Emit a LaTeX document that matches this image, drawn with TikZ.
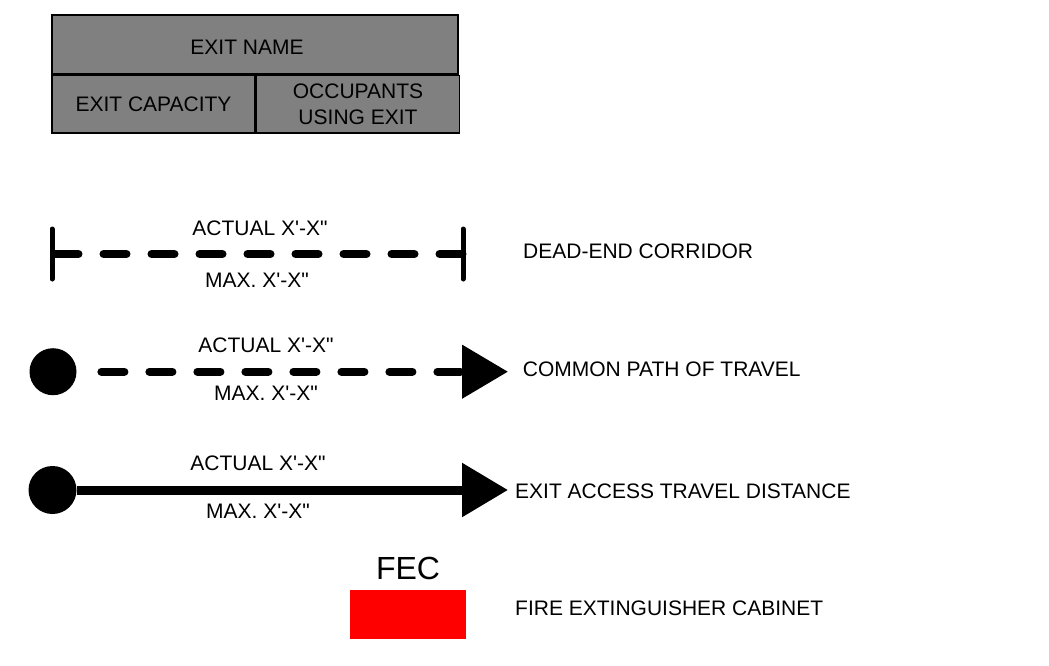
\documentclass[tikz,border=0pt]{standalone}
\usepackage{fontspec}
\setmainfont{Liberation Sans}[Ligatures=TeXOff]
\usetikzlibrary{arrows.meta,positioning,calc}

\begin{document}
\begin{tikzpicture}[
  x=1pt, y=-1pt,
  lbl/.style={font=\fontsize{21}{26.7}\selectfont, inner sep=0pt, align=center},
  cell/.style={draw, line width=1.5pt, fill=black!50, inner sep=0pt,
               font=\fontsize{21}{26.7}\selectfont, align=center},
  dot/.style={circle, fill, inner sep=0pt, minimum size=47pt},
  endbar/.style={line width=5pt, line cap=round},
  dashln/.style={line width=8pt, line cap=round, dash pattern=on 23pt off 25pt},
  ar/.style={-{Triangle[length=46pt, width=52pt]}}
]
  \useasboundingbox (0,0) rectangle (1049,665);

  \node[cell, minimum width=406pt, minimum height=59pt, text height=19.4pt] (exitname) at (255,44.5) {EXIT NAME\hspace{16pt}};
  \node[cell, minimum width=203pt, minimum height=57.5pt, anchor=north west] (exitcap) at (exitname.south west) {EXIT CAPACITY};
  \node[cell, minimum width=203pt, minimum height=57.5pt, anchor=north west] (occupants) at (exitcap.north east) {OCCUPANTS\\USING EXIT};

  \coordinate (de-l) at (52,254);
  \coordinate (de-r) at (463,254);
  \draw[dashln, dash phase=44.5pt] (de-l) -- (de-r);
  \draw[endbar] ($(de-l)+(0,-25)$) -- ($(de-l)+(0,25)$);
  \draw[endbar] ($(de-r)+(0,-25)$) -- ($(de-r)+(0,25)$);
  \node[lbl] (de-act) at (260,228.5) {ACTUAL X'-X"};
  \node[lbl] (de-max) at (257,280) {MAX. X'-X"};
  \node[lbl, anchor=west] (de-txt) at (523,251) {DEAD-END CORRIDOR};

  \node[dot] (cp-dot) at (53,371.7) {};
  \coordinate (cp-end) at (508,371.7);
  \draw[dashln, dash phase=23.3pt, ar] (cp-dot) -- (cp-end);
  \node[lbl] (cp-act) at (266,345) {ACTUAL X'-X"};
  \node[lbl] (cp-max) at (266,393) {MAX. X'-X"};
  \node[lbl, anchor=west] (cp-txt) at (522.7,369.5) {COMMON PATH OF TRAVEL};

  \node[dot, minimum size=48pt] (ea-dot) at (52.5,490) {};
  \coordinate (ea-end) at (508,490);
  \draw[line width=9pt, ar] (ea-dot) -- (ea-end);
  \node[lbl] (ea-act) at (258,463.3) {ACTUAL X'-X"};
  \node[lbl] (ea-max) at (258,511.7) {MAX. X'-X"};
  \node[lbl, anchor=west] (ea-txt) at (515,491) {EXIT ACCESS TRAVEL DISTANCE};

  \node[fill=red, minimum width=116pt, minimum height=49pt, inner sep=0pt] (fec-box) at (408,614.5) {};
  \node[lbl, font=\fontsize{32}{38}\selectfont, above=10pt of fec-box] (fec) {FEC};
  \node[lbl, anchor=west] (fec-txt) at (515,608) {FIRE EXTINGUISHER CABINET};
\end{tikzpicture}
\end{document}
